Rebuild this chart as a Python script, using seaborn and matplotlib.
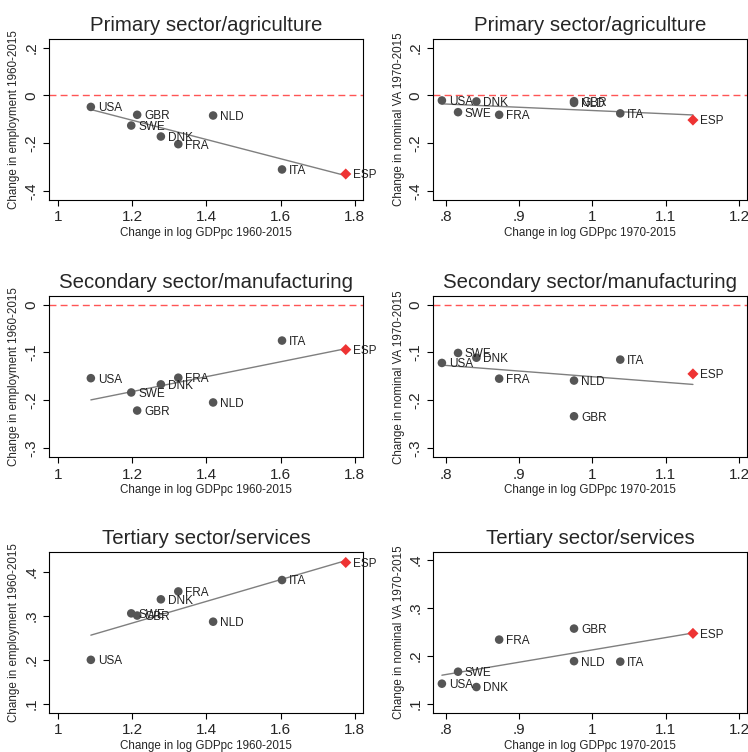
import numpy as np
import pandas as pd
import matplotlib
matplotlib.use("Agg")
import matplotlib.pyplot as plt
import seaborn as sns
from matplotlib.ticker import FuncFormatter

# Countries and GDP growth (x axes)
countries = ['USA', 'GBR', 'SWE', 'DNK', 'FRA', 'NLD', 'ITA', 'ESP']
gdp_6015 = [1.088, 1.213, 1.197, 1.277, 1.324, 1.418, 1.604, 1.776]
gdp_7015 = [0.795, 0.975, 0.817, 0.842, 0.873, 0.975, 1.038, 1.137]

# Sector shares changes (y axes)
emp_primary = [-0.048, -0.081, -0.126, -0.172, -0.204, -0.084, -0.310, -0.329]
va_primary = [-0.021, -0.024, -0.070, -0.025, -0.081, -0.031, -0.075, -0.103]
emp_secondary = [-0.154, -0.222, -0.184, -0.167, -0.153, -0.205, -0.075, -0.094]
va_secondary = [-0.122, -0.234, -0.101, -0.111, -0.155, -0.159, -0.115, -0.145]
emp_tertiary = [0.200, 0.301, 0.306, 0.338, 0.356, 0.287, 0.382, 0.422]
va_tertiary = [0.142, 0.257, 0.167, 0.135, 0.234, 0.189, 0.188, 0.247]

titles = ['Primary sector/agriculture', 'Secondary sector/manufacturing', 'Tertiary sector/services']
xlab_emp = 'Change in log GDPpc 1960-2015'
xlab_va = 'Change in log GDPpc 1970-2015'
ylab_emp = 'Change in employment 1960-2015'
ylab_va = 'Change in nominal VA 1970-2015'

sns.set_style("white")
plt.rcParams['font.family'] = ['Liberation Sans', 'DejaVu Sans']


def stata_fmt(v, pos):
    # Stata-style labels: ".2", "-.4", "0", "1.2"
    s = ('%.2f' % v).rstrip('0').rstrip('.')
    if s in ('-0', ''):
        s = '0'
    if s.startswith('0.'):
        s = s[1:]
    s = s.replace('-0.', '-.')
    return s


fig = plt.figure(figsize=(7.48, 7.52), dpi=100)
lefts = [0.0655, 0.579]
bottoms = [0.734, 0.392, 0.052]
w, h = 0.42, 0.214

panels = [
    (0, 0, gdp_6015, emp_primary, ylab_emp, xlab_emp, (-0.438, 0.236), [-0.4, -0.2, 0, 0.2], (0.975, 1.823), [1, 1.2, 1.4, 1.6, 1.8]),
    (0, 1, gdp_7015, va_primary, ylab_va, xlab_va, (-0.438, 0.236), [-0.4, -0.2, 0, 0.2], (0.783, 1.211), [0.8, 0.9, 1, 1.1, 1.2]),
    (1, 0, gdp_6015, emp_secondary, ylab_emp, xlab_emp, (-0.32, 0.018), [-0.3, -0.2, -0.1, 0], (0.975, 1.823), [1, 1.2, 1.4, 1.6, 1.8]),
    (1, 1, gdp_7015, va_secondary, ylab_va, xlab_va, (-0.32, 0.018), [-0.3, -0.2, -0.1, 0], (0.783, 1.211), [0.8, 0.9, 1, 1.1, 1.2]),
    (2, 0, gdp_6015, emp_tertiary, ylab_emp, xlab_emp, (0.079, 0.446), [0.1, 0.2, 0.3, 0.4], (0.975, 1.823), [1, 1.2, 1.4, 1.6, 1.8]),
    (2, 1, gdp_7015, va_tertiary, ylab_va, xlab_va, (0.081, 0.417), [0.1, 0.2, 0.3, 0.4], (0.783, 1.211), [0.8, 0.9, 1, 1.1, 1.2]),
]

for row, col, xs, ys, ylab, xlab, ylim, yticks, xlim, xticks in panels:
    ax = fig.add_axes([lefts[col], bottoms[row], w, h])
    df = pd.DataFrame({'country': countries, 'x': xs, 'y': ys})
    others = df[df['country'] != 'ESP']
    esp = df[df['country'] == 'ESP']

    sns.regplot(data=df, x='x', y='y', scatter=False, ci=None, ax=ax,
                line_kws={'color': '#7f7f7f', 'lw': 1.0})
    sns.scatterplot(data=others, x='x', y='y', ax=ax, color='#555555', s=38,
                    edgecolor='none', zorder=3)
    sns.scatterplot(data=esp, x='x', y='y', ax=ax, color='#ee3333', marker='D', s=32,
                    edgecolor='none', zorder=4)
    for _, r in df.iterrows():
        ax.annotate(r['country'], (r['x'], r['y']), xytext=(5, -1), textcoords='offset points',
                    va='center', ha='left', fontsize=8.5, color='#222222')

    ax.axhline(0, color='#ff5555', lw=1.0, ls=(0, (5, 3)), zorder=1)

    ax.set_xlim(xlim)
    ax.set_ylim(ylim)
    ax.set_xticks(xticks)
    ax.set_yticks(yticks)
    ax.xaxis.set_major_formatter(FuncFormatter(stata_fmt))
    ax.yaxis.set_major_formatter(FuncFormatter(stata_fmt))
    ax.tick_params(axis='both', which='major', direction='out', length=4, width=0.8,
                   labelsize=11, color='black', bottom=True, left=True)
    for lab in ax.get_yticklabels():
        lab.set_rotation(90)
        lab.set_va('center')
    for sp in ax.spines.values():
        sp.set_color('black')
        sp.set_linewidth(0.8)
    ax.set_xlabel(xlab, fontsize=8.4, labelpad=2)
    ax.set_ylabel(ylab, fontsize=8.4, labelpad=3)
    ax.set_title(titles[row], fontsize=14.7, pad=6)

fig.savefig('out.png', dpi=100)
